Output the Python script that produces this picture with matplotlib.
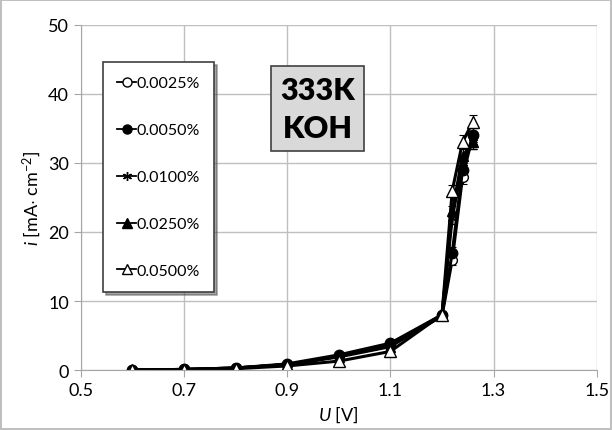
import numpy as np
import matplotlib
matplotlib.use("Agg")
import matplotlib.pyplot as plt
from matplotlib.lines import Line2D

plt.rcParams['font.family'] = ['Lato', 'DejaVu Sans']
plt.rcParams['mathtext.fontset'] = 'custom'
plt.rcParams['mathtext.rm'] = 'Lato'
plt.rcParams['mathtext.it'] = 'Lato:italic'

# -----------------------
# DATA
# -----------------------
voltage = [0.6, 0.7, 0.8, 0.9, 1.0, 1.1, 1.2, 1.22, 1.24, 1.26]

labels = ['0.0025%', '0.0050%', '0.0100%', '0.0250%', '0.0500%']

i_0025 = [0.0, 0.1, 0.3, 0.8, 2.0, 3.5, 7.8, 16.0, 28.0, 34.0]
i_0050 = [0.0, 0.1, 0.3, 0.9, 2.2, 3.9, 8.0, 17.0, 29.0, 34.0]
i_0100 = [0.0, 0.1, 0.3, 0.8, 2.0, 3.6, 8.0, 22.0, 30.0, 33.0]
i_0250 = [0.0, 0.1, 0.3, 0.8, 1.9, 3.4, 8.0, 23.0, 31.0, 33.0]
i_0500 = [0.0, 0.0, 0.2, 0.6, 1.3, 2.7, 8.0, 26.0, 33.0, 36.0]

err = [0.1, 0.1, 0.1, 0.2, 0.2, 0.3, 0.4, 0.8, 1.0, 1.0]

series = [i_0025, i_0050, i_0100, i_0250, i_0500]

# -----------------------
# PLOT
# -----------------------
fig = plt.figure(figsize=(6.12, 4.31), dpi=100)
fig.patch.set_edgecolor('#bfbfbf')
fig.patch.set_linewidth(1.5)
ax = fig.add_axes([0.132, 0.139, 0.843, 0.801])

styles = [
    dict(marker='o', mfc='white', ms=7),
    dict(marker='o', mfc='black', ms=7.5),
    dict(marker=(6, 2, 0), mfc='black', ms=7, mew=1),
    dict(marker='^', mfc='black', ms=7),
    dict(marker='^', mfc='white', ms=8),
]

handles = []
for vals, lab, st in zip(series, labels, styles):
    ax.errorbar(voltage, vals, yerr=err, color='black', lw=2.2, mec='black',
                capsize=3, elinewidth=0.8, capthick=0.8, **st)
    leg_st = dict(st)
    leg_st['ms'] = 6.5
    handles.append(Line2D([], [], color='black', lw=1.3, mec='black', label=lab, **leg_st))

ax.set_xlim(0.5, 1.5)
ax.set_ylim(0, 50)
ax.set_xticks(np.arange(0.5, 1.51, 0.2))
ax.set_yticks(np.arange(0, 51, 10))
ax.set_xticklabels(['0.5', '0.7', '0.9', '1.1', '1.3', '1.5'])
ax.grid(True, color='#bfbfbf', lw=1)
ax.set_axisbelow(True)
for s in ['top', 'right']:
    ax.spines[s].set_visible(False)
for s in ['left', 'bottom']:
    ax.spines[s].set_color('#a6a6a6')
ax.tick_params(colors='#a6a6a6', labelcolor='black', labelsize=13, length=5)

ax.set_xlabel('$U$ [V]', fontsize=13, labelpad=4)
ax.set_ylabel('$i$ [mA$\\cdot$ cm$^{-2}$]', fontsize=13, labelpad=4)

leg = ax.legend(handles=handles, loc='upper left', bbox_to_anchor=(0.043, 0.893),
                fontsize=11.5, labelspacing=2.05, handlelength=1.15,
                handletextpad=0.05, borderpad=0.9, borderaxespad=0,
                fancybox=False, shadow=True,
                framealpha=1, edgecolor='#404040')
leg.get_frame().set_linewidth(1.2)

ax.text(0.459, 0.757, '333K\nKOH', transform=ax.transAxes, fontsize=22,
        fontweight='heavy', ha='center', va='center', linespacing=1.45,
        bbox=dict(boxstyle='square,pad=0.3', fc='#d9d9d9', ec='#404040', lw=1.2))

fig.savefig('out.png', dpi=100)
